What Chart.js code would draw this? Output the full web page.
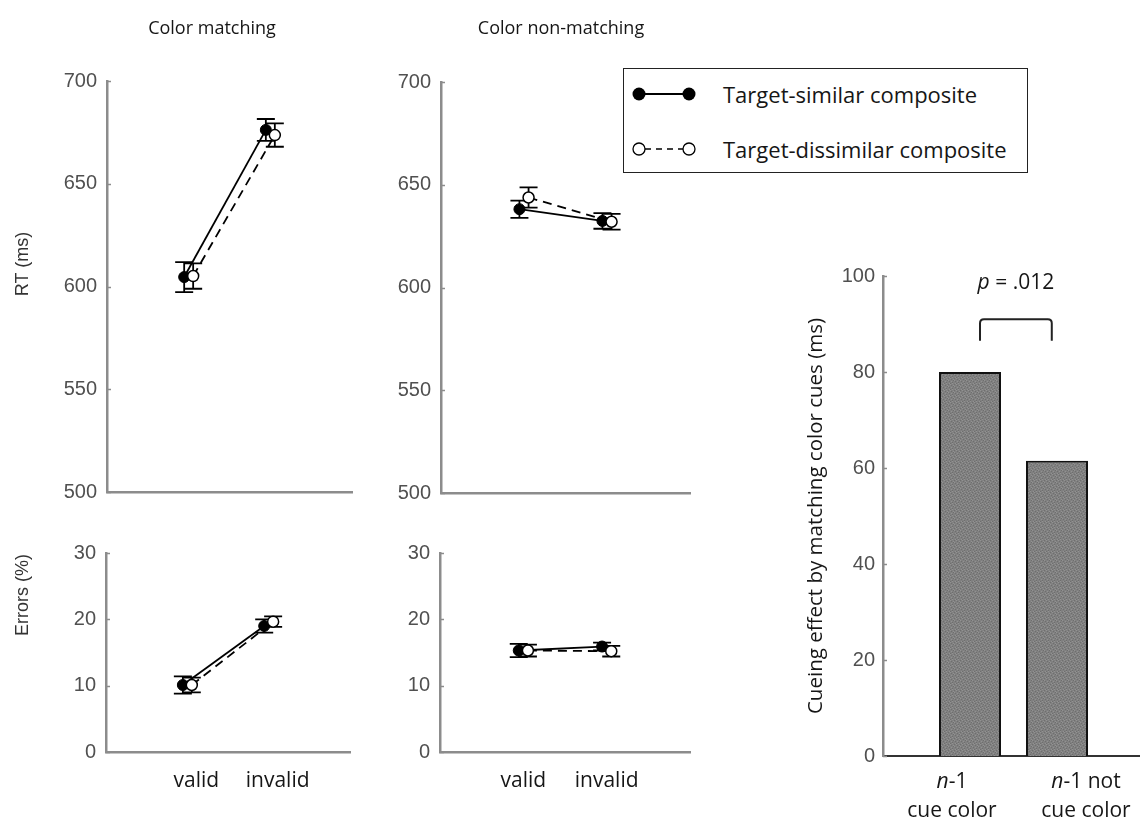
<!DOCTYPE html>
<html>
<head>
<meta charset="utf-8">
<script src="https://cdn.jsdelivr.net/npm/chart.js@4.4.1/dist/chart.umd.min.js"></script>
<style>
html,body{margin:0;padding:0;background:#fff;}
#wrap{position:relative;width:1140px;height:822px;overflow:hidden;background:#fff;}
#wrap canvas{position:absolute;left:0;top:0;}
.t{position:absolute;white-space:nowrap;font-family:'Open Sans',sans-serif;color:#161616;line-height:1;}
.rot{transform:translate(-50%,-50%) rotate(-90deg);}
.ctr{transform:translate(-50%,-50%);}
#legend{position:absolute;left:623px;top:68px;width:403px;height:103px;border:1.5px solid #222;background:#fff;}
</style>
</head>
<body>
<div id="wrap">
<canvas id="cA" width="1140" height="822"></canvas>
<canvas id="cB" width="1140" height="822"></canvas>
<canvas id="cC" width="1140" height="822"></canvas>
<canvas id="cD" width="1140" height="822"></canvas>
<canvas id="cE" width="1140" height="822"></canvas>

<div class="t ctr" style="left:212px;top:27px;font-size:18px">Color matching</div>
<div class="t ctr" style="left:561px;top:27px;font-size:18px">Color non-matching</div>
<div class="t rot" style="left:22px;top:264px;font-size:18px;font-family:'Liberation Sans',Arial,sans-serif;color:#333">RT (ms)</div>
<div class="t rot" style="left:22px;top:595px;font-size:18px;font-family:'Liberation Sans',Arial,sans-serif;color:#333">Errors (%)</div>

<div id="legend">
  <svg width="90" height="103" style="position:absolute;left:0;top:0">
    <line x1="15" y1="25" x2="65" y2="25" stroke="#000" stroke-width="2"/>
    <circle cx="15" cy="25" r="6.5" fill="#000"/>
    <circle cx="65" cy="25" r="6.5" fill="#000"/>
    <line x1="21" y1="80" x2="59" y2="80" stroke="#000" stroke-width="1.5" stroke-dasharray="6,5"/>
    <circle cx="15" cy="80" r="6" fill="#fff" stroke="#000" stroke-width="1.3"/>
    <circle cx="65" cy="80" r="6" fill="#fff" stroke="#000" stroke-width="1.3"/>
  </svg>
  <div class="t" id="leg1" style="left:99px;top:25px;transform:translateY(-50%);font-size:22px"></div>
  <div class="t" id="leg2" style="left:99px;top:80px;transform:translateY(-50%);font-size:22px"></div>
</div>
</div>

<script>
// ---------------- data ----------------
const conditions = ['valid', 'invalid'];
const seriesNames = ['Target-similar composite', 'Target-dissimilar composite'];

const rtTicks = [500, 550, 600, 650, 700];
const errTicks = [0, 10, 20, 30];

// Color matching – RT (ms)
const rtMatchSimilar = [604.6, 676.2];
const rtMatchSimilarSE = [7.3, 5.3];
const rtMatchDissimilar = [605.1, 673.7];
const rtMatchDissimilarSE = [6.2, 5.7];
// Color non-matching – RT (ms)
const rtNonSimilar = [638.1, 632.4];
const rtNonSimilarSE = [4.2, 3.8];
const rtNonDissimilar = [643.8, 632.0];
const rtNonDissimilarSE = [4.9, 3.8];
// Color matching – Errors (%)
const errMatchSimilar = [10.1, 19.0];
const errMatchSimilarSE = [1.3, 1.0];
const errMatchDissimilar = [10.1, 19.65];
const errMatchDissimilarSE = [1.1, 0.8];
// Color non-matching – Errors (%)
const errNonSimilar = [15.3, 15.9];
const errNonSimilarSE = [1.0, 0.6];
const errNonDissimilar = [15.3, 15.2];
const errNonDissimilarSE = [0.9, 0.8];

// Cueing effect bar chart
const barCategories = [['n', '-1', 'cue color'], ['n', '-1 not', 'cue color']];
const cueingEffect = [80, 61.5];
const barTicks = [0, 20, 40, 60, 80, 100];
const pValueText = ['p', ' = .012'];

document.getElementById('leg1').textContent = seriesNames[0];
document.getElementById('leg2').textContent = seriesNames[1];

// ---------------- styles ----------------
const AXIS = '#8c8c8c';
const TICKFONT = {family: "'Liberation Sans', Arial, sans-serif", size: 20};
const TEXTFONT = "'Open Sans', sans-serif";
const jitter = 0.055;

const errorBarPlugin = {
  id: 'errbars',
  beforeDatasetsDraw(chart) {
    const ctx = chart.ctx, xs = chart.scales.x, ys = chart.scales.y;
    ctx.save();
    ctx.strokeStyle = '#000';
    ctx.lineWidth = 1.8;
    chart.data.datasets.forEach(ds => {
      if (!ds.errors) return;
      ds.data.forEach((p, i) => {
        const x = xs.getPixelForValue(p.x);
        const y1 = ys.getPixelForValue(p.y + ds.errors[i]);
        const y2 = ys.getPixelForValue(p.y - ds.errors[i]);
        ctx.beginPath();
        ctx.moveTo(x, y1); ctx.lineTo(x, y2);
        ctx.moveTo(x - 9, y1); ctx.lineTo(x + 9, y1);
        ctx.moveTo(x - 9, y2); ctx.lineTo(x + 9, y2);
        ctx.stroke();
      });
    });
    ctx.restore();
  }
};

const innerTickPlugin = {
  id: 'innerticks',
  afterDraw(chart) {
    const ctx = chart.ctx, ys = chart.scales.y, a = chart.chartArea;
    ctx.save();
    ctx.strokeStyle = AXIS;
    ctx.lineWidth = 1.5;
    ys.ticks.forEach(t => {
      const y = Math.round(ys.getPixelForValue(t.value)) + 0.5;
      ctx.beginPath();
      ctx.moveTo(a.left, y); ctx.lineTo(a.left + 4, y);
      ctx.stroke();
    });
    ctx.restore();
  }
};

function makeLinePanel(id, area, yTicks, showX, labelShift, sim, simSE, dis, disSE) {
  const yAxisW = 80, xAxisH = showX ? 60 : 10;
  new Chart(document.getElementById(id), {
    type: 'scatter',
    data: {
      datasets: [
        {
          label: seriesNames[0],
          data: conditions.map((c, i) => ({x: i + 1 - jitter, y: sim[i]})),
          errors: simSE,
          showLine: true, borderColor: '#000', borderWidth: 1.8,
          pointRadius: 5.5, pointBackgroundColor: '#000', pointBorderColor: '#000', pointBorderWidth: 1,
          order: 2
        },
        {
          label: seriesNames[1],
          data: conditions.map((c, i) => ({x: i + 1 + jitter, y: dis[i]})),
          errors: disSE,
          showLine: true, borderColor: '#000', borderWidth: 1.8, borderDash: [9, 6],
          pointRadius: 5.5, pointBackgroundColor: '#fff', pointBorderColor: '#000', pointBorderWidth: 1.5,
          order: 1
        }
      ]
    },
    options: {
      responsive: false, animation: false, events: [],
      layout: {padding: {left: area.left - yAxisW, top: area.top, right: 1140 - area.right, bottom: 822 - area.bottom - xAxisH}},
      plugins: {legend: {display: false}, tooltip: {enabled: false}},
      scales: {
        x: {
          type: 'linear', min: 0, max: 3,
          afterFit(s) { s.height = xAxisH; },
          afterBuildTicks(s) { s.ticks = conditions.map((c, i) => ({value: i + 1})); },
          ticks: {display: showX, autoSkip: false, maxRotation: 0, padding: 16, labelOffset: labelShift, color: '#161616',
                  font: {family: TEXTFONT, size: 21}, callback: v => conditions[v - 1]},
          grid: {display: false, drawTicks: false},
          border: {color: AXIS, width: 2.5}
        },
        y: {
          min: yTicks[0], max: yTicks[yTicks.length - 1],
          afterFit(s) { s.width = yAxisW; },
          afterBuildTicks(s) { s.ticks = yTicks.map(v => ({value: v})); },
          ticks: {padding: 10, color: '#505050', font: TICKFONT},
          grid: {display: false, drawTicks: false},
          border: {color: AXIS, width: 2.5}
        }
      }
    },
    plugins: [errorBarPlugin, innerTickPlugin]
  });
}

makeLinePanel('cA', {left: 107, top: 81, right: 352, bottom: 492}, rtTicks, false, 0,
  rtMatchSimilar, rtMatchSimilarSE, rtMatchDissimilar, rtMatchDissimilarSE);
makeLinePanel('cB', {left: 441, top: 82, right: 690, bottom: 493}, rtTicks, false, 0,
  rtNonSimilar, rtNonSimilarSE, rtNonDissimilar, rtNonDissimilarSE);
makeLinePanel('cC', {left: 106, top: 553, right: 350, bottom: 752}, errTicks, true, 9,
  errMatchSimilar, errMatchSimilarSE, errMatchDissimilar, errMatchDissimilarSE);
makeLinePanel('cD', {left: 440, top: 553, right: 690, bottom: 752}, errTicks, true, 0,
  errNonSimilar, errNonSimilarSE, errNonDissimilar, errNonDissimilarSE);

// ---------------- bar chart ----------------
function stipple() {
  const c = document.createElement('canvas');
  c.width = 6; c.height = 6;
  const g = c.getContext('2d');
  g.fillStyle = '#808080'; g.fillRect(0, 0, 6, 6);
  const dark = [[0,0],[3,1],[1,3],[4,4],[2,5],[5,2]];
  const light = [[2,0],[5,1],[0,2],[3,3],[1,5],[4,5]];
  g.fillStyle = '#6e6e6e'; dark.forEach(([x,y]) => g.fillRect(x, y, 1, 1));
  g.fillStyle = '#929292'; light.forEach(([x,y]) => g.fillRect(x, y, 1, 1));
  return g.createPattern(c, 'repeat');
}

const bracket = {from: 1.115, to: 1.94, top: 91, bottom: 86.5, textY: 98.5};
const barLabelShift = [-18, 29];

const barAnnotPlugin = {
  id: 'barannot',
  afterDraw(chart) {
    const ctx = chart.ctx, xs = chart.scales.x, ys = chart.scales.y, a = chart.chartArea;
    ctx.save();
    // bracket
    const xL = xs.getPixelForValue(bracket.from), xR = xs.getPixelForValue(bracket.to);
    const yT = ys.getPixelForValue(bracket.top), yB = ys.getPixelForValue(bracket.bottom);
    const r = 4;
    ctx.strokeStyle = '#222'; ctx.lineWidth = 2;
    ctx.beginPath();
    ctx.moveTo(xL, yB); ctx.lineTo(xL, yT + r);
    ctx.quadraticCurveTo(xL, yT, xL + r, yT);
    ctx.lineTo(xR - r, yT);
    ctx.quadraticCurveTo(xR, yT, xR, yT + r);
    ctx.lineTo(xR, yB);
    ctx.stroke();
    // p value
    ctx.fillStyle = '#161616';
    ctx.textBaseline = 'middle';
    const it = 'italic 21px ' + TEXTFONT, nf = '21px ' + TEXTFONT;
    ctx.font = it; const w1 = ctx.measureText(pValueText[0]).width;
    ctx.font = nf; const w2 = ctx.measureText(pValueText[1]).width;
    const cx = (xL + xR) / 2, py = ys.getPixelForValue(bracket.textY);
    let sx = cx - (w1 + w2) / 2;
    ctx.font = it; ctx.textAlign = 'left'; ctx.fillText(pValueText[0], sx, py);
    ctx.font = nf; ctx.fillText(pValueText[1], sx + w1, py);
    // category labels
    barCategories.forEach((cat, i) => {
      const x = xs.getPixelForValue(i + 1) + barLabelShift[i];
      ctx.font = it; const a1 = ctx.measureText(cat[0]).width;
      ctx.font = nf; const a2 = ctx.measureText(cat[1]).width;
      const y1 = a.bottom + 26, y2 = a.bottom + 55;
      let s = x - (a1 + a2) / 2;
      ctx.textAlign = 'left';
      ctx.font = it; ctx.fillText(cat[0], s, y1);
      ctx.font = nf; ctx.fillText(cat[1], s + a1, y1);
      ctx.textAlign = 'center';
      ctx.fillText(cat[2], x, y2);
    });
    ctx.restore();
  }
};

(function () {
  const cv = document.getElementById('cE');
  const yAxisW = 79, xAxisH = 10;
  const area = {left: 883, top: 276, right: 1140, bottom: 756};
  new Chart(cv, {
    type: 'bar',
    data: {
      datasets: [{
        data: cueingEffect.map((v, i) => ({x: i + 1, y: v})),
        backgroundColor: stipple(),
        borderColor: '#111', borderWidth: 2,
        barPercentage: 0.713, categoryPercentage: 1
      }]
    },
    options: {
      responsive: false, animation: false, events: [],
      layout: {padding: {left: area.left - yAxisW, top: area.top, right: 1140 - area.right, bottom: 822 - area.bottom - xAxisH}},
      plugins: {legend: {display: false}, tooltip: {enabled: false}},
      scales: {
        x: {
          type: 'linear', min: 0, max: (area.right - area.left) / 87, offset: false,
          afterFit(s) { s.height = xAxisH; },
          afterBuildTicks(s) { s.ticks = barCategories.map((c, i) => ({value: i + 1})); },
          ticks: {display: false},
          grid: {display: false, drawTicks: false, offset: false},
          border: {color: '#333', width: 2}
        },
        y: {
          min: barTicks[0], max: barTicks[barTicks.length - 1],
          afterFit(s) { s.width = yAxisW; },
          afterBuildTicks(s) { s.ticks = barTicks.map(v => ({value: v})); },
          ticks: {padding: 8, color: '#505050', font: TICKFONT},
          grid: {display: false, drawTicks: false},
          border: {color: AXIS, width: 2.5},
          title: {display: true, text: 'Cueing effect by matching color cues (ms)', color: '#161616',
                  font: {family: TEXTFONT, size: 20.5}, padding: {top: 0, bottom: 0}}
        }
      }
    },
    plugins: [innerTickPlugin, barAnnotPlugin]
  });
})();
</script>
</body>
</html>
